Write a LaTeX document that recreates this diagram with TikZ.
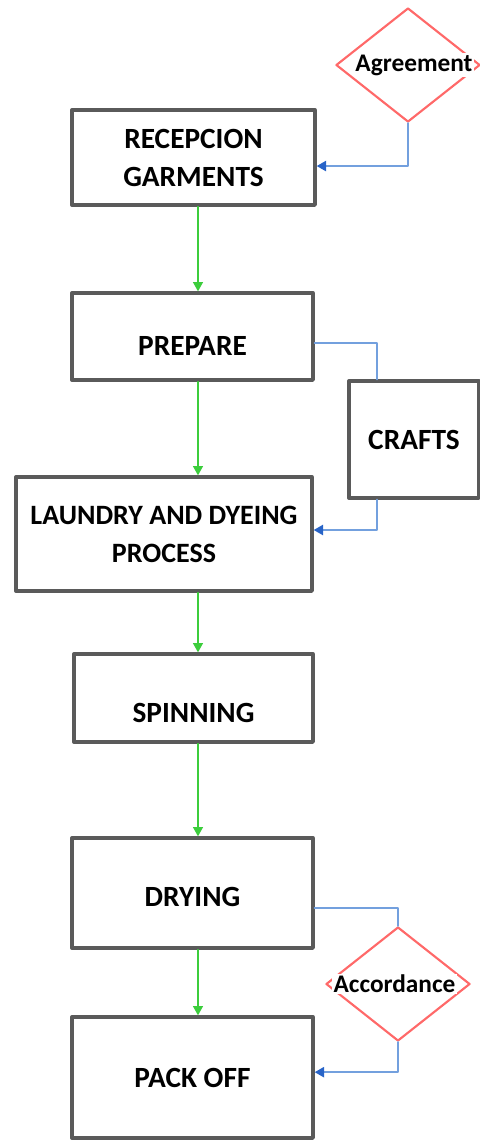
\documentclass[tikz,border=0pt]{standalone}
\usepackage{fontspec}
\setmainfont{Carlito}
\usetikzlibrary{shapes.geometric,arrows.meta}
\definecolor{boxgray}{RGB}{90,90,90}
\definecolor{stepgreen}{RGB}{60,205,60}
\definecolor{linkblue}{RGB}{115,160,222}
\definecolor{tipblue}{RGB}{40,100,200}
\definecolor{checkred}{RGB}{255,105,105}
\begin{document}
\begin{tikzpicture}[x=0.75pt,y=-0.75pt,line join=round,line cap=round]
	\tikzset{box/.style={draw=boxgray,line width=2.5pt,fill=white,inner sep=0pt,align=center,
			font=\bfseries\fontsize{22}{28.5}\selectfont},
		lower/.style={text height=#1},
		check/.style={diamond,draw=checkred,line width=1.6pt,inner sep=0pt,
			minimum width=108pt,minimum height=85.5pt},
		checktext/.style={fill=white,inner sep=1pt,font=\bfseries\fontsize{19}{22}\selectfont},
		flow/.style={draw=stepgreen,line width=1.1pt,-{Triangle[width=7.5pt,length=7pt]}},
		link/.style={draw=linkblue,line width=1.6pt},
		linkarrow/.style={link,-{Triangle[width=7.5pt,length=7pt,color=tipblue]}}}
	\useasboundingbox (0,0) rectangle (479,1140);
	% process steps
	\node[box,minimum width=182.25pt,minimum height=71.25pt] (rec) at (193.5,157.5) {RECEPCION\\GARMENTS};
	\node[box,lower=29pt,minimum width=180.75pt,minimum height=65.25pt] (prep) at (192.5,336.5) {PREPARE};
	\node[box,minimum width=97.5pt,minimum height=87.75pt] (crafts) at (414,439.5) {CRAFTS};
	\node[box,font=\bfseries\fontsize{21}{28.5}\selectfont,minimum width=222pt,minimum height=85.5pt] (laundry) at (164,534) {LAUNDRY AND DYEING\\PROCESS};
	\node[box,lower=37pt,minimum width=179.25pt,minimum height=66pt] (spin) at (193.5,698) {SPINNING};
	\node[box,lower=20pt,minimum width=180.75pt,minimum height=82.5pt] (dry) at (192.5,893) {DRYING};
	\node[box,minimum width=180.75pt,minimum height=90.75pt] (pack) at (192.5,1077.5) {PACK OFF};
	% checks
	\node[check] (agr) at (408,65) {};
	\node[check] (acc) at (398,984) {};
	% main flow
	\coordinate (axis) at (198,0);
	\foreach \a/\b in {rec/prep, prep/laundry, laundry/spin, spin/dry, dry/pack}
	\draw[flow] (\a.south -| axis) -- (\b.north -| axis);
	% side links
	\draw[linkarrow] (agr.south) |- ([yshift=-6.4pt]rec.east);
	\draw[link] ([yshift=-5pt]prep.east) -| ([xshift=-28pt]crafts.north);
	\draw[linkarrow] ([xshift=-28pt]crafts.south) |- ([yshift=3pt]laundry.east);
	\draw[link] ([yshift=-11pt]dry.east) -| (acc.north);
	\draw[linkarrow] (acc.south) |- ([yshift=4pt]pack.east);
	% check labels
	\node[checktext] (agrtext) at (414,65) {Agreement};
	\node[checktext] (acctext) at (394.5,984) {Accordance};
\end{tikzpicture}
\end{document}
